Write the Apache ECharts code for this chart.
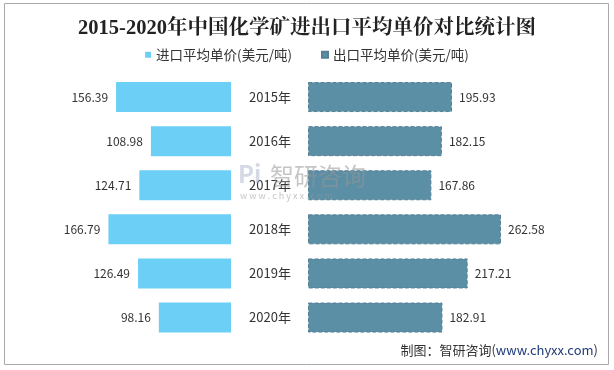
<!DOCTYPE html>
<html><head><meta charset="utf-8">
<script src="https://cdn.jsdelivr.net/npm/echarts@6/dist/echarts.min.js"></script>
<style>html,body{margin:0;padding:0;background:#fff}#c{width:614px;height:370px}</style>
</head><body><div id="c"></div>
<script>
const categories = ['2015年','2016年','2017年','2018年','2019年','2020年'];
const importPrice = [156.39, 108.98, 124.71, 166.79, 126.49, 98.16];
const exportPrice = [195.93, 182.15, 167.86, 262.58, 217.21, 182.91];
const seriesNames = ['进口平均单价(美元/吨)', '出口平均单价(美元/吨)'];
const titleText = '2015-2020年中国化学矿进出口平均单价对比统计图';

const font = '"Noto Sans CJK SC", "Microsoft YaHei", sans-serif';
const chart = echarts.init(document.getElementById('c'));
chart.setOption({
  animation: false,
  backgroundColor: '#fff',
  title: {
    text: titleText, left: 'center', top: 13,
    textStyle: {fontFamily: '"Liberation Serif", "Noto Serif CJK SC", "Noto Sans CJK SC", serif', fontSize: 20.5, fontWeight: 'bold', color: '#222'}
  },
  legend: {
    top: 43, left: 'center', itemWidth: 6, itemHeight: 6, itemGap: 29, icon: 'rect',
    textStyle: {fontFamily: font, fontSize: 13.5, color: '#333'},
    data: seriesNames
  },
  grid: [
    {left: 10.5, width: 220.5, top: 75, height: 264.6, containLabel: false},
    {left: 308, width: 220.5, top: 75, height: 264.6, containLabel: false}
  ],
  xAxis: [
    {gridIndex: 0, type: 'value', min: 0, max: 300, inverse: true, show: false},
    {gridIndex: 1, type: 'value', min: 0, max: 300, show: false}
  ],
  yAxis: [
    {gridIndex: 0, type: 'category', data: categories, inverse: true, position: 'right',
     axisLine: {show: false}, axisTick: {show: false},
     axisLabel: {margin: 39, align: 'center', fontFamily: font, fontSize: 13, color: '#333'}},
    {gridIndex: 1, type: 'category', data: categories, inverse: true, show: false}
  ],
  graphic: [
    {type: 'rect', shape: {x: 4.5, y: 3.5, width: 604, height: 361}, style: {fill: 'none', stroke: '#aaa', lineWidth: 1}, silent: true},
    {type: 'text', x: 598, y: 344, style: {text: '{a|制图：智研咨询(}{b|www.chyxx.com}{a|)}', align: 'right',
      rich: {a: {fontFamily: font, fontSize: 13, fill: '#333'}, b: {fontFamily: font, fontSize: 13, fill: '#1f3b7a'}}}},
    {type: 'text', x: 270, y: 164, z: 100, style: {text: '智研咨询', fontFamily: font, fontSize: 24, fill: 'rgba(150,150,150,0.55)'}},
    {type: 'text', x: 240, y: 191, z: 100, style: {text: 'w w w . c h y x x . c o m', fontFamily: font, fontSize: 9, fill: 'rgba(150,150,150,0.55)'}},
    {type: 'text', x: 238, y: 162, z: 100, style: {text: 'Pi', fontFamily: font, fontSize: 24, fontWeight: 'bold', fill: 'rgba(170,180,200,0.5)'}}
  ],
  series: [
    {name: seriesNames[0], type: 'bar', xAxisIndex: 0, yAxisIndex: 0, data: importPrice, barWidth: 30,
     itemStyle: {color: '#6ccff6'},
     label: {show: true, position: 'left', distance: 8, fontFamily: font, fontSize: 12, color: '#333'}},
    {name: seriesNames[1], type: 'bar', xAxisIndex: 1, yAxisIndex: 1, data: exportPrice, barWidth: 30,
     itemStyle: {color: '#5b8fa6', borderColor: '#557f94', borderWidth: 1, borderType: 'dashed'},
     label: {show: true, position: 'right', distance: 7, fontFamily: font, fontSize: 12, color: '#333'}}
  ]
});
</script></body></html>
